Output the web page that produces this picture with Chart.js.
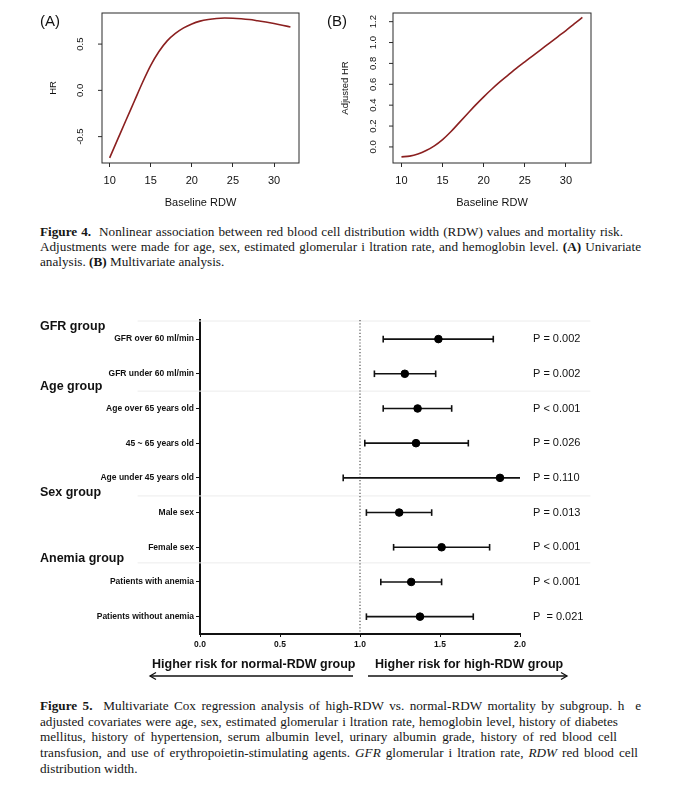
<!DOCTYPE html>
<html>
<head>
<meta charset="utf-8">
<script src="https://cdn.jsdelivr.net/npm/chart.js@4.4.1/dist/chart.umd.min.js"></script>
<style>
  body { margin: 0; background: #fff; width: 680px; height: 785px; position: relative; overflow: hidden;
         font-family: 'Liberation Sans', Arial, sans-serif; color: #111; }
  canvas { position: absolute; }
  .abs { position: absolute; white-space: nowrap; }
  .panel { font-size: 15px; }
  .risk { font-weight: bold; font-size: 12.5px; line-height: 16px; }
  .cap { position: absolute; left: 40px; color: #161616;
         font-family: 'Liberation Serif', 'Times New Roman', serif; font-size: 13.2px; }
  .cap div { white-space: nowrap; }
  .cap div.full { text-align: justify; text-align-last: justify; white-space: normal; }
</style>
</head>
<body>
<canvas id="chartA" width="320" height="215" style="left:0;top:0"></canvas>
<canvas id="chartB" width="320" height="215" style="left:320px;top:0"></canvas>
<div class="abs panel" style="left:40px;top:12px">(A)</div>
<div class="abs panel" style="left:327px;top:12px">(B)</div>
<div class="cap" id="cap4" style="top:224px;line-height:15px"></div>

<canvas id="forest" width="680" height="390" style="left:0;top:300px"></canvas>
<div class="abs risk" style="left:152px;top:656px">Higher risk for normal-RDW group</div>
<div class="abs risk" style="left:375px;top:656px">Higher risk for high-RDW group</div>
<svg class="abs" style="left:0;top:660px" width="680" height="30">
  <g stroke="#111" stroke-width="1.3" fill="none">
    <line x1="150" y1="16" x2="353" y2="16"/>
    <polyline points="156,12.5 150,16 156,19.5"/>
    <line x1="368" y1="16" x2="567" y2="16"/>
    <polyline points="561,12.5 567,16 561,19.5"/>
  </g>
</svg>
<div class="cap" id="cap5" style="top:698px;line-height:15.7px"></div>

<script>
// ── Figure 4 data: spline of HR against baseline RDW ──────────────────────────
const RDW = [10, 11, 12, 13, 14, 15, 16, 17, 18, 19, 20, 21, 22, 23, 24, 25, 26, 27, 28, 29, 30, 31, 32]
const HR_UNIVARIATE = [-0.73, -0.525, -0.32, -0.118, 0.085, 0.27, 0.42, 0.535, 0.615, 0.675, 0.718, 0.748,
  0.766, 0.777, 0.782, 0.78, 0.774, 0.765, 0.752, 0.738, 0.722, 0.704, 0.685]
const HR_ADJUSTED = [-0.095, -0.088, -0.068, -0.035, 0.01, 0.07, 0.145, 0.23, 0.315, 0.4, 0.48, 0.555,
  0.625, 0.69, 0.755, 0.815, 0.875, 0.935, 0.995, 1.055, 1.115, 1.178, 1.24]
const RDW_TICKS = [10, 15, 20, 25, 30]
const HR_A_TICKS = [-0.5, 0, 0.5]
const HR_B_TICKS = [0, 0.2, 0.4, 0.6, 0.8, 1.0, 1.2]

// ── Figure 5 data: forest plot ────────────────────────────────────────────────
const ROW_LABELS = ['GFR over 60 ml/min', 'GFR under 60 ml/min', 'Age over 65 years old', '45 ~ 65 years old',
  'Age under 45 years old', 'Male sex', 'Female sex', 'Patients with anemia', 'Patients without anemia']
const HR_POINT = [1.49, 1.28, 1.36, 1.35, 1.875, 1.245, 1.51, 1.32, 1.375]
const CI_LOW   = [1.145, 1.09, 1.145, 1.03, 0.895, 1.04, 1.21, 1.13, 1.04]
const CI_HIGH  = [1.833, 1.473, 1.573, 1.677, 2.0, 1.448, 1.81, 1.51, 1.708]
const P_LABELS = ['P = 0.002', 'P = 0.002', 'P < 0.001', 'P = 0.026', 'P = 0.110', 'P = 0.013',
  'P < 0.001', 'P < 0.001', 'P  = 0.021']
const GROUP_LABELS = ['GFR group', 'Age group', 'Sex group', 'Anemia group']
const GROUP_POS = [-0.37, 1.38, 4.43, 6.33]
const SEPARATORS = [-0.52, 1.5, 4.52, 6.45]
const HR_TICKS = [0, 0.5, 1, 1.5, 2]

// caption lines and the right edge each justified line reaches
const CAPTION_4 = [
  '<b>Figure 4.</b>&nbsp; Nonlinear association between red blood cell distribution width (RDW) values and mortality risk.',
  'Adjustments were made for age, sex, estimated glomerular i ltration rate, and hemoglobin level. <b>(A)</b> Univariate',
  'analysis. <b>(B)</b> Multivariate analysis.',
]
const CAPTION_4_ENDS = [623, 641, null]
const CAPTION_5 = [
  '<b>Figure 5.</b>&nbsp; Multivariate Cox regression analysis of high-RDW vs. normal-RDW mortality by subgroup. h&nbsp; e',
  'adjusted covariates were age, sex, estimated glomerular i ltration rate, hemoglobin level, history of diabetes',
  'mellitus, history of hypertension, serum albumin level, urinary albumin grade, history of red blood cell',
  'transfusion, and use of erythropoietin-stimulating agents. <i>GFR</i> glomerular i ltration rate, <i>RDW</i> red blood cell',
  'distribution width.',
]
const CAPTION_5_ENDS = [641, 618, 617, 638, null]

function fillCaption(id, lines, ends) {
  const box = document.getElementById(id)
  lines.forEach((html, i) => {
    const d = document.createElement('div')
    d.innerHTML = html
    if (ends[i]) { d.className = 'full'; d.style.width = (ends[i] - 40) + 'px' }
    box.appendChild(d)
  })
}
fillCaption('cap4', CAPTION_4, CAPTION_4_ENDS)
fillCaption('cap5', CAPTION_5, CAPTION_5_ENDS)

const SANS = "'Liberation Sans', Arial, sans-serif"
Chart.defaults.font.family = SANS
Chart.defaults.color = '#111'
Chart.defaults.animation = false
Chart.defaults.events = []

// R-style frame: box, rotated y tick labels, axis titles
const rFrame = {
  id: 'rFrame',
  afterDraw(chart, args, opts) {
    const { ctx, chartArea: a, scales: { y } } = chart
    ctx.save()
    ctx.strokeStyle = '#2a2a2a'
    ctx.lineWidth = 1
    ctx.strokeRect(a.left, a.top, a.right - a.left, a.bottom - a.top)
    ctx.fillStyle = '#111'
    ctx.textAlign = 'center'
    ctx.textBaseline = 'middle'
    ctx.font = '9.5px ' + SANS
    for (const v of opts.yTicks) {
      const py = y.getPixelForValue(v)
      ctx.beginPath(); ctx.moveTo(a.left, py); ctx.lineTo(a.left - 4, py); ctx.stroke()
      ctx.save(); ctx.translate(a.left - opts.tickGap, py); ctx.rotate(-Math.PI / 2)
      ctx.fillText(v.toFixed(1), 0, 0); ctx.restore()
    }
    ctx.save(); ctx.translate(a.left - opts.titleGap, (a.top + a.bottom) / 2); ctx.rotate(-Math.PI / 2)
    ctx.fillText(opts.yTitle, 0, 0); ctx.restore()
    ctx.font = '11px ' + SANS
    ctx.fillText('Baseline RDW', (a.left + a.right) / 2, a.bottom + 40)
    ctx.restore()
  },
}

function splineChart(id, values, yMin, yMax, yTicks, yWidth, padRight, frame) {
  return new Chart(document.getElementById(id), {
    type: 'line',
    data: {
      datasets: [{
        data: RDW.map((x, i) => ({ x, y: values[i] })),
        borderColor: '#8b2020',
        borderWidth: 1.6,
        pointRadius: 0,
        cubicInterpolationMode: 'monotone',
      }],
    },
    options: {
      responsive: false,
      layout: { padding: { top: 13, right: padRight, left: 0, bottom: 0 } },
      plugins: { legend: { display: false }, tooltip: { enabled: false }, rFrame: frame },
      scales: {
        x: {
          type: 'linear', min: frame.xMin, max: frame.xMax,
          afterBuildTicks: s => { s.ticks = RDW_TICKS.map(value => ({ value })) },
          afterFit: s => { s.height = 52 },
          grid: { display: true, drawOnChartArea: false, drawTicks: true, tickLength: 4, color: '#2a2a2a' },
          border: { display: false },
          ticks: { font: { size: 11 }, padding: 7, maxRotation: 0, callback: v => String(v) },
        },
        y: {
          type: 'linear', min: yMin, max: yMax,
          afterBuildTicks: s => { s.ticks = yTicks.map(value => ({ value })) },
          afterFit: s => { s.width = yWidth },
          grid: { display: false },
          border: { display: false },
          ticks: { display: false },
        },
      },
    },
    plugins: [rFrame],
  })
}

splineChart('chartA', HR_UNIVARIATE, -0.785, 0.836, HR_A_TICKS, 102, 21,
  { yTicks: HR_A_TICKS, tickGap: 22, titleGap: 49, yTitle: 'HR', xMin: 9.07, xMax: 33.04 })
splineChart('chartB', HR_ADJUSTED, -0.154, 1.283, HR_B_TICKS, 73, 49,
  { yTicks: HR_B_TICKS, tickGap: 20, titleGap: 48, yTitle: 'Adjusted HR', xMin: 8.97, xMax: 33.05 })

// ── Forest plot ───────────────────────────────────────────────────────────────
const Y_MIN = -0.55, Y_MAX = 8.5, X_MIN = 0, X_MAX = 2
const rowIdx = ROW_LABELS.map((_, i) => i)

const groupLabels = {
  id: 'groupLabels',
  afterDraw(chart) {
    const { ctx, scales: { y } } = chart
    ctx.save()
    ctx.font = 'bold 12.5px ' + SANS
    ctx.fillStyle = '#111'
    ctx.textAlign = 'left'
    ctx.textBaseline = 'middle'
    GROUP_LABELS.forEach((t, i) => ctx.fillText(t, 40, y.getPixelForValue(GROUP_POS[i])))
    ctx.restore()
  },
}

const forestSets = []
SEPARATORS.forEach(r => forestSets.push({
  data: [{ x: -0.39, y: r }, { x: 2.44, y: r }],
  showLine: true, borderColor: '#ececec', borderWidth: 1, pointRadius: 0, clip: false, order: 10,
}))
forestSets.push({
  data: [{ x: 1, y: Y_MIN }, { x: 1, y: Y_MAX }],
  showLine: true, borderColor: '#444', borderWidth: 1.1, borderDash: [1.2, 2], pointRadius: 0, order: 5,
})
rowIdx.forEach(i => forestSets.push({
  data: [{ x: CI_LOW[i], y: i }, { x: CI_HIGH[i], y: i }],
  showLine: true, borderColor: '#111', borderWidth: 1.6,
  pointStyle: 'line', rotation: 90, pointBorderColor: '#111', pointBorderWidth: 1.6,
  pointRadius: [3.3, CI_HIGH[i] >= X_MAX ? 0 : 3.3], order: 2,
}))
forestSets.push({
  data: rowIdx.map(i => ({ x: HR_POINT[i], y: i })),
  pointStyle: 'circle', pointRadius: 3.8, backgroundColor: '#000', borderColor: '#000', order: 1,
})

new Chart(document.getElementById('forest'), {
  type: 'scatter',
  data: { datasets: forestSets },
  options: {
    responsive: false,
    layout: { padding: { top: 20, right: 0, left: 0, bottom: 0 } },
    plugins: { legend: { display: false }, tooltip: { enabled: false } },
    scales: {
      x: {
        type: 'linear', min: X_MIN, max: X_MAX,
        afterBuildTicks: s => { s.ticks = HR_TICKS.map(value => ({ value })) },
        afterFit: s => { s.height = 56 },
        grid: { display: true, drawOnChartArea: false, drawTicks: true, tickLength: 3, color: '#111' },
        border: { display: true, color: '#111', width: 2 },
        ticks: { font: { size: 8.5, weight: 'bold' }, padding: 3, maxRotation: 0, callback: v => v.toFixed(1) },
      },
      y: {
        type: 'linear', min: Y_MIN, max: Y_MAX, reverse: true,
        afterBuildTicks: s => { s.ticks = rowIdx.map(value => ({ value })) },
        afterFit: s => { s.width = 200 },
        grid: { display: true, drawOnChartArea: false, drawTicks: true, tickLength: 4, color: '#111' },
        border: { display: true, color: '#111', width: 2 },
        ticks: { font: { size: 8.5, weight: 'bold' }, padding: 2, callback: v => ROW_LABELS[v] },
      },
      y2: {
        type: 'linear', position: 'right', min: Y_MIN, max: Y_MAX, reverse: true,
        afterBuildTicks: s => { s.ticks = rowIdx.map(value => ({ value })) },
        afterFit: s => { s.width = 160 },
        grid: { display: false, drawTicks: false },
        border: { display: false },
        ticks: { font: { size: 11 }, padding: 13, callback: v => P_LABELS[v] },
      },
    },
  },
  plugins: [groupLabels],
})
</script>
</body>
</html>
